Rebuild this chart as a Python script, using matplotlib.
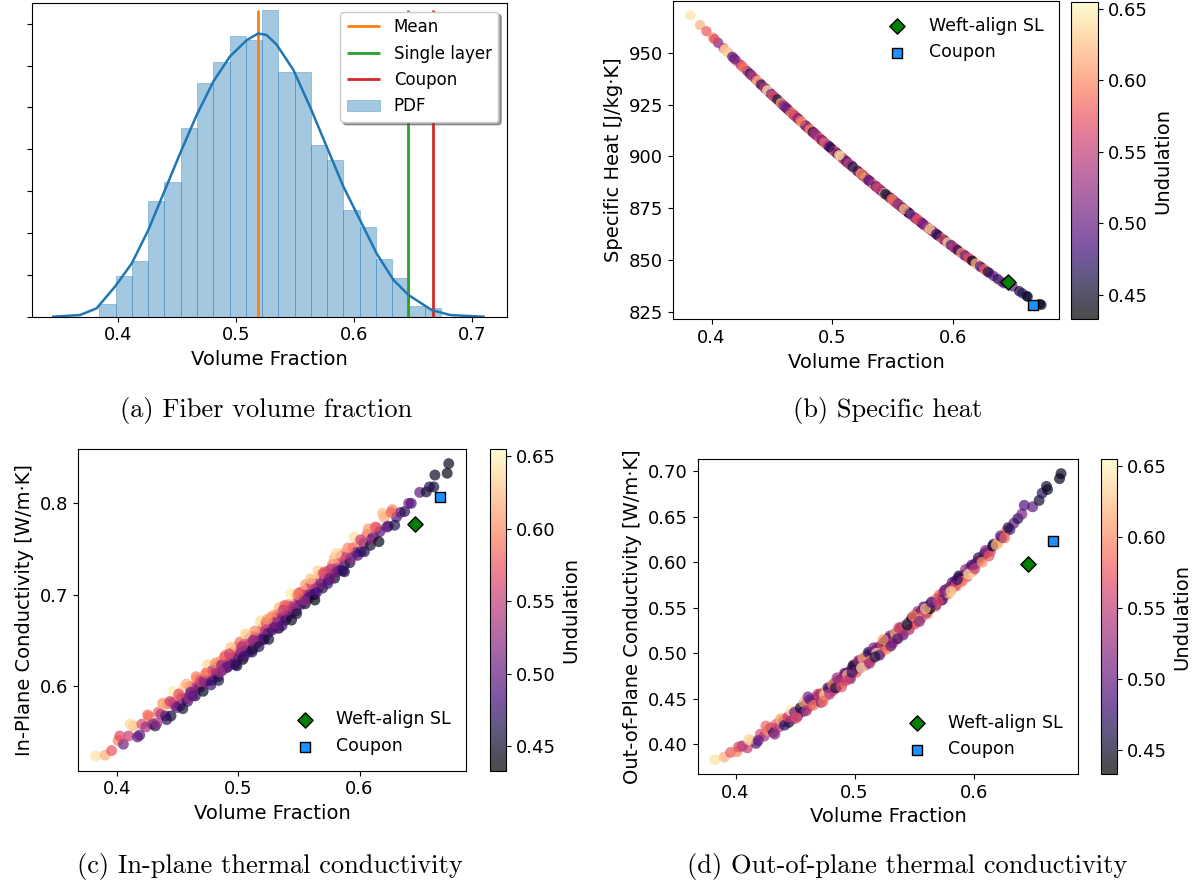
import numpy as np
import matplotlib
matplotlib.use("Agg")
import matplotlib.pyplot as plt

# ---- histogram of fibre volume fraction (density per bin)
hist_start = 0.3839
hist_width = 0.01379
hist_density = [0.30, 0.97, 1.33, 2.76, 3.22, 4.51, 5.59, 6.09, 6.71, 6.61, 7.33,
                5.85, 5.85, 4.10, 3.75, 2.55, 2.14, 1.39, 0.92, 0.25, 0.20]

kde_x = [0.3449, 0.3675, 0.3816, 0.3972, 0.4113, 0.4254, 0.4395, 0.4523, 0.4664,
         0.4805, 0.4946, 0.5088, 0.5186, 0.5257, 0.5342, 0.5483, 0.5624, 0.5766,
         0.5907, 0.6048, 0.6189, 0.6331, 0.6458, 0.6655, 0.6811, 0.7093]
kde_y = [0.00, 0.04, 0.20, 0.72, 1.27, 2.07, 3.03, 3.90, 4.82, 5.62, 6.22, 6.61,
         6.77, 6.73, 6.50, 5.90, 5.02, 4.06, 3.11, 2.31, 1.51, 0.88, 0.52, 0.16,
         0.04, 0.00]

vf_mean = 0.5181
vf_single_layer = 0.6458
vf_coupon = 0.6667

# ---- reference specimens
sl_cp, coupon_cp = 839.4, 828.5
sl_kin, coupon_kin = 0.777, 0.807
sl_kout, coupon_kout = 0.598, 0.623

# ---- samples: volume fraction, undulation, specific heat, in-plane k, out-of-plane k
vf = [0.3826, 0.3905, 0.3958, 0.4012, 0.4055, 0.4098, 0.4137, 0.4172, 0.4208, 0.4241,
      0.4268, 0.4295, 0.4318, 0.4342, 0.4365, 0.4383, 0.4402, 0.4421, 0.4447, 0.4468,
      0.4485, 0.4503, 0.4521, 0.4536, 0.4551, 0.4569, 0.4584, 0.4603, 0.4617, 0.4632,
      0.4648, 0.4659, 0.4671, 0.4684, 0.4697, 0.4712, 0.4728, 0.4741, 0.4756, 0.4770,
      0.4783, 0.4797, 0.4809, 0.4821, 0.4834, 0.4846, 0.4858, 0.4871, 0.4883, 0.4896,
      0.4909, 0.4922, 0.4936, 0.4947, 0.4958, 0.4969, 0.4981, 0.4992, 0.5004, 0.5016,
      0.5028, 0.5039, 0.5051, 0.5063, 0.5074, 0.5086, 0.5097, 0.5109, 0.5121, 0.5132,
      0.5144, 0.5156, 0.5168, 0.5179, 0.5191, 0.5203, 0.5214, 0.5225, 0.5236, 0.5247,
      0.5258, 0.5269, 0.5280, 0.5291, 0.5302, 0.5313, 0.5324, 0.5335, 0.5345, 0.5354,
      0.5367, 0.5379, 0.5391, 0.5404, 0.5416, 0.5429, 0.5441, 0.5454, 0.5466, 0.5478,
      0.5490, 0.5503, 0.5515, 0.5528, 0.5541, 0.5553, 0.5566, 0.5579, 0.5591, 0.5604,
      0.5616, 0.5628, 0.5645, 0.5662, 0.5679, 0.5695, 0.5712, 0.5729, 0.5745, 0.5761,
      0.5778, 0.5795, 0.5811, 0.5828, 0.5845, 0.5862, 0.5878, 0.5894, 0.5921, 0.5945,
      0.5968, 0.5991, 0.6013, 0.6035, 0.6062, 0.6089, 0.6115, 0.6142, 0.6168, 0.6203,
      0.6237, 0.6271, 0.6305, 0.6338, 0.6372, 0.6405, 0.6426, 0.6496, 0.6550, 0.6576,
      0.6612, 0.6621, 0.6722, 0.6735,
      0.4025, 0.4110, 0.4190, 0.4255, 0.4330, 0.4378, 0.4412, 0.4440, 0.4462, 0.4495,
      0.4512, 0.4545, 0.4575, 0.4595, 0.4625, 0.4655, 0.4690, 0.4718, 0.4748, 0.4776,
      0.4790, 0.4815, 0.4840, 0.4865, 0.4890, 0.4915, 0.4940, 0.4965, 0.4990, 0.5015,
      0.5032, 0.5048, 0.5070, 0.5092, 0.5115, 0.5138, 0.5160, 0.5185, 0.5210, 0.5232,
      0.5252, 0.5274, 0.5296, 0.5318, 0.5340, 0.5362, 0.5385, 0.5408, 0.5432, 0.5458,
      0.5482, 0.5505, 0.5530, 0.5555, 0.5580, 0.5605, 0.5632, 0.5658, 0.5685, 0.5712,
      0.5738, 0.5765, 0.5792, 0.5820, 0.5848, 0.5876, 0.5905, 0.5932, 0.5958, 0.5985,
      0.6010, 0.6040, 0.6072, 0.6100, 0.6130, 0.6160, 0.6190, 0.6225, 0.6260, 0.6290,
      0.4608, 0.4735, 0.4852, 0.4928, 0.4978, 0.5058, 0.5126, 0.5172, 0.5240, 0.5305,
      0.5372, 0.5440, 0.5492, 0.5545, 0.5595, 0.5645, 0.5702, 0.5755, 0.5810, 0.5862]

undulation = [0.642, 0.618, 0.575, 0.598, 0.508, 0.552, 0.621, 0.489, 0.565, 0.533,
              0.603, 0.512, 0.468, 0.577, 0.541, 0.629, 0.497, 0.585, 0.452, 0.561,
              0.519, 0.608, 0.486, 0.547, 0.637, 0.503, 0.474, 0.589, 0.528, 0.556,
              0.462, 0.614, 0.535, 0.498, 0.572, 0.445, 0.523, 0.597, 0.511, 0.646,
              0.482, 0.550, 0.509, 0.583, 0.466, 0.531, 0.604, 0.495, 0.542, 0.623,
              0.478, 0.517, 0.568, 0.502, 0.590, 0.455, 0.537, 0.612, 0.489, 0.558,
              0.521, 0.433, 0.575, 0.506, 0.633, 0.471, 0.544, 0.598, 0.448, 0.513,
              0.561, 0.487, 0.527, 0.655, 0.499, 0.582, 0.458, 0.536, 0.609, 0.494,
              0.567, 0.520, 0.476, 0.627, 0.548, 0.503, 0.589, 0.443, 0.531, 0.571,
              0.509, 0.615, 0.469, 0.540, 0.596, 0.492, 0.553, 0.519, 0.640, 0.461,
              0.579, 0.525, 0.486, 0.603, 0.546, 0.451, 0.512, 0.587, 0.533, 0.497,
              0.631, 0.474, 0.558, 0.505, 0.612, 0.463, 0.541, 0.584, 0.488, 0.527,
              0.596, 0.447, 0.519, 0.563, 0.480, 0.621, 0.502, 0.545, 0.459, 0.576,
              0.514, 0.603, 0.471, 0.532, 0.587, 0.452, 0.508, 0.566, 0.493, 0.614,
              0.476, 0.598, 0.488, 0.502, 0.465, 0.509, 0.487, 0.497, 0.452, 0.470,
              0.456, 0.448, 0.442, 0.446,
              0.566, 0.637, 0.497, 0.583, 0.528, 0.612, 0.472, 0.553, 0.648, 0.506,
              0.573, 0.459, 0.617, 0.534, 0.491, 0.592, 0.563, 0.515, 0.639, 0.476,
              0.545, 0.602, 0.462, 0.524, 0.574, 0.497, 0.628, 0.514, 0.452, 0.585,
              0.536, 0.483, 0.618, 0.556, 0.468, 0.599, 0.521, 0.639, 0.490, 0.566,
              0.455, 0.597, 0.511, 0.546, 0.620, 0.476, 0.578, 0.503, 0.648, 0.539,
              0.465, 0.571, 0.528, 0.610, 0.492, 0.551, 0.438, 0.633, 0.517, 0.586,
              0.479, 0.542, 0.618, 0.501, 0.565, 0.456, 0.597, 0.526, 0.641, 0.485,
              0.553, 0.468, 0.606, 0.512, 0.575, 0.445, 0.624, 0.497, 0.583, 0.461,
              0.507, 0.588, 0.532, 0.559, 0.474, 0.642, 0.527, 0.461, 0.608, 0.498,
              0.552, 0.449, 0.594, 0.518, 0.627, 0.484, 0.563, 0.507, 0.637, 0.474]

specific_heat = [968.0, 963.4, 960.4, 957.3, 954.8, 952.3, 950.1, 948.1, 946.0, 944.2,
                 942.7, 941.2, 939.9, 938.6, 937.3, 936.2, 935.2, 934.1, 932.7, 931.5,
                 930.6, 929.6, 928.7, 927.9, 927.1, 926.1, 925.3, 924.2, 923.5, 922.7,
                 921.8, 921.2, 920.6, 919.9, 919.2, 918.5, 917.6, 916.9, 916.1, 915.4,
                 914.7, 913.9, 913.3, 912.7, 912.0, 911.4, 910.8, 910.1, 909.5, 908.8,
                 908.1, 907.4, 906.7, 906.2, 905.6, 905.1, 904.5, 903.9, 903.3, 902.7,
                 902.1, 901.5, 900.9, 900.3, 899.8, 899.2, 898.6, 898.0, 897.4, 896.8,
                 896.2, 895.7, 895.1, 894.5, 893.9, 893.3, 892.8, 892.3, 891.7, 891.2,
                 890.6, 890.1, 889.6, 889.0, 888.5, 888.0, 887.4, 886.9, 886.4, 886.0,
                 885.4, 884.8, 884.2, 883.6, 883.0, 882.4, 881.8, 881.2, 880.7, 880.1,
                 879.6, 879.0, 878.4, 877.8, 877.2, 876.6, 876.0, 875.4, 874.8, 874.2,
                 873.7, 873.1, 872.3, 871.5, 870.7, 870.0, 869.3, 868.5, 867.8, 867.0,
                 866.3, 865.5, 864.8, 864.1, 863.4, 862.6, 861.9, 861.2, 860.0, 858.9,
                 857.9, 856.9, 855.9, 855.0, 853.8, 852.7, 851.6, 850.5, 849.4, 847.9,
                 846.5, 845.1, 843.7, 842.3, 840.9, 839.6, 838.8, 837.3, 835.0, 834.0,
                 832.7, 832.3, 828.8, 828.4,
                 956.6, 951.6, 947.1, 943.4, 939.2, 936.5, 934.6, 933.1, 931.9, 930.1,
                 929.1, 927.5, 925.8, 924.6, 923.1, 921.5, 919.6, 918.2, 916.5, 915.0,
                 914.3, 913.0, 911.7, 910.5, 909.2, 907.8, 906.5, 905.3, 904.0, 902.7,
                 901.9, 901.1, 900.0, 898.9, 897.7, 896.5, 895.5, 894.2, 893.0, 891.9,
                 891.0, 889.9, 888.8, 887.7, 886.7, 885.6, 884.5, 883.4, 882.3, 881.1,
                 880.0, 878.9, 877.7, 876.5, 875.3, 874.2, 872.9, 871.7, 870.5, 869.3,
                 868.1, 866.8, 865.6, 864.4, 863.2, 862.0, 860.7, 859.5, 858.4, 857.2,
                 856.1, 854.8, 853.4, 852.2, 851.0, 849.7, 848.4, 847.0, 845.6, 844.3,
                 924.0, 917.2, 911.1, 907.1, 904.6, 900.6, 897.1, 894.9, 891.5, 888.4,
                 885.1, 881.9, 879.5, 877.0, 874.6, 872.3, 869.7, 867.3, 864.9, 862.6]

k_in_plane = [0.523, 0.524, 0.529, 0.540, 0.536, 0.545, 0.556, 0.544, 0.558, 0.555,
              0.566, 0.558, 0.556, 0.571, 0.569, 0.580, 0.567, 0.580, 0.567, 0.582,
              0.578, 0.590, 0.578, 0.587, 0.598, 0.586, 0.583, 0.599, 0.593, 0.599,
              0.589, 0.607, 0.600, 0.598, 0.607, 0.594, 0.604, 0.614, 0.606, 0.622,
              0.606, 0.615, 0.612, 0.621, 0.610, 0.618, 0.627, 0.617, 0.623, 0.634,
              0.620, 0.625, 0.633, 0.626, 0.637, 0.624, 0.634, 0.643, 0.631, 0.640,
              0.637, 0.629, 0.646, 0.639, 0.654, 0.637, 0.646, 0.654, 0.640, 0.647,
              0.654, 0.647, 0.652, 0.668, 0.653, 0.663, 0.651, 0.661, 0.670, 0.658,
              0.668, 0.664, 0.661, 0.678, 0.671, 0.667, 0.678, 0.663, 0.674, 0.680,
              0.674, 0.687, 0.672, 0.682, 0.689, 0.680, 0.687, 0.685, 0.700, 0.682,
              0.696, 0.692, 0.689, 0.703, 0.699, 0.690, 0.698, 0.708, 0.703, 0.700,
              0.716, 0.700, 0.712, 0.708, 0.722, 0.707, 0.718, 0.725, 0.716, 0.722,
              0.733, 0.718, 0.727, 0.735, 0.727, 0.745, 0.733, 0.741, 0.735, 0.751,
              0.746, 0.758, 0.747, 0.756, 0.766, 0.754, 0.764, 0.773, 0.769, 0.785,
              0.775, 0.793, 0.785, 0.790, 0.791, 0.800, 0.800, 0.812, 0.8125, 0.818,
              0.818, 0.831, 0.833, 0.8435,
              0.545, 0.558, 0.546, 0.568, 0.559, 0.581, 0.563, 0.583, 0.594, 0.576,
              0.591, 0.575, 0.602, 0.587, 0.589, 0.610, 0.605, 0.605, 0.623, 0.601,
              0.617, 0.625, 0.606, 0.623, 0.632, 0.621, 0.642, 0.625, 0.622, 0.648,
              0.643, 0.632, 0.656, 0.652, 0.637, 0.660, 0.648, 0.671, 0.651, 0.669,
              0.651, 0.675, 0.669, 0.668, 0.686, 0.666, 0.688, 0.676, 0.701, 0.685,
              0.679, 0.702, 0.695, 0.711, 0.696, 0.712, 0.694, 0.726, 0.712, 0.725,
              0.712, 0.728, 0.740, 0.725, 0.742, 0.725, 0.751, 0.740, 0.763, 0.743,
              0.760, 0.747, 0.772, 0.761, 0.774, 0.758, 0.789, 0.774, 0.790, 0.776,
              0.593, 0.614, 0.615, 0.635, 0.623, 0.657, 0.650, 0.643, 0.673, 0.664,
              0.683, 0.672, 0.700, 0.693, 0.717, 0.702, 0.723, 0.718, 0.745, 0.726]

k_out_plane = [0.383, 0.386, 0.391, 0.392, 0.398, 0.396, 0.404, 0.401, 0.411, 0.409,
               0.415, 0.418, 0.413, 0.422, 0.419, 0.426, 0.425, 0.428, 0.424, 0.433,
               0.428, 0.436, 0.431, 0.437, 0.441, 0.436, 0.443, 0.440, 0.446, 0.443,
               0.447, 0.446, 0.449, 0.452, 0.448, 0.455, 0.451, 0.457, 0.454, 0.461,
               0.460, 0.458, 0.463, 0.459, 0.467, 0.462, 0.470, 0.466, 0.471, 0.468,
               0.474, 0.477, 0.472, 0.479, 0.474, 0.481, 0.485, 0.478, 0.486, 0.483,
               0.489, 0.491, 0.486, 0.493, 0.488, 0.495, 0.491, 0.490, 0.499, 0.497,
               0.494, 0.501, 0.503, 0.497, 0.506, 0.500, 0.507, 0.505, 0.502, 0.510,
               0.508, 0.513, 0.516, 0.510, 0.514, 0.518, 0.512, 0.521, 0.519, 0.516,
               0.524, 0.519, 0.528, 0.525, 0.523, 0.531, 0.528, 0.534, 0.527, 0.536,
               0.533, 0.538, 0.541, 0.535, 0.543, 0.545, 0.540, 0.547, 0.550, 0.546,
               0.543, 0.553, 0.552, 0.557, 0.551, 0.560, 0.561, 0.558, 0.566, 0.564,
               0.565, 0.572, 0.570, 0.575, 0.579, 0.574, 0.583, 0.580, 0.586, 0.584,
               0.594, 0.590, 0.598, 0.601, 0.603, 0.609, 0.611, 0.612, 0.620, 0.621,
               0.627, 0.634, 0.636, 0.643, 0.648, 0.653, 0.6626, 0.661, 0.668, 0.676,
               0.6835, 0.680, 0.692, 0.6975,
               0.397, 0.405, 0.404, 0.420, 0.411, 0.428, 0.421, 0.430, 0.437, 0.435,
               0.429, 0.440, 0.446, 0.437, 0.449, 0.443, 0.455, 0.446, 0.454, 0.462,
               0.455, 0.466, 0.462, 0.470, 0.463, 0.478, 0.476, 0.472, 0.487, 0.479,
               0.492, 0.484, 0.495, 0.487, 0.501, 0.492, 0.506, 0.500, 0.498, 0.510,
               0.513, 0.505, 0.519, 0.511, 0.522, 0.516, 0.527, 0.520, 0.531, 0.526,
               0.539, 0.532, 0.546, 0.538, 0.551, 0.544, 0.549, 0.558, 0.553, 0.564,
               0.559, 0.570, 0.566, 0.578, 0.574, 0.585, 0.579, 0.592, 0.587, 0.597,
               0.593, 0.605, 0.600, 0.613, 0.607, 0.618, 0.619, 0.629, 0.627, 0.638,
               0.452, 0.447, 0.473, 0.470, 0.479, 0.484, 0.489, 0.496, 0.515, 0.508,
               0.528, 0.531, 0.541, 0.535, 0.549, 0.556, 0.557, 0.569, 0.568, 0.581]

captions = ["(a) Fiber volume fraction", "(b) Specific heat",
            "(c) In-plane thermal conductivity", "(d) Out-of-plane thermal conductivity"]

W, H = 1200, 886
TICK = 13
LABEL = 14


def px_axes(fig, x0, y0, x1, y1):
    return fig.add_axes([x0 / W, 1 - y1 / H, (x1 - x0) / W, (y1 - y0) / H])


fig = plt.figure(figsize=(W / 100, H / 100), dpi=100)

# (a) histogram + KDE
ax = px_axes(fig, 32.3, 3.3, 506.7, 316.7)
ax.vlines(vf_mean, 0, max(hist_density), color="C1", lw=2, label="Mean")
ax.vlines(vf_single_layer, 0, max(hist_density), color="C2", lw=2, label="Single layer")
ax.vlines(vf_coupon, 0, max(hist_density), color="C3", lw=2, label="Coupon")
left_edges = hist_start + hist_width * np.arange(len(hist_density))
ax.bar(left_edges, hist_density, width=hist_width, align="edge", color="C0",
       alpha=0.4, edgecolor="C0", linewidth=0.6, label="PDF")
ax.plot(kde_x, kde_y, color="C0", lw=1.8)
ax.set_xlim(0.3271, 0.7291)
ax.set_ylim(0, 7.49)
ax.set_yticks(range(0, 8))
ax.set_yticklabels([])
ax.set_xticks([0.4, 0.5, 0.6, 0.7])
ax.tick_params(labelsize=TICK)
ax.set_xlabel("Volume Fraction", fontsize=LABEL)
ax.legend(loc="upper right", shadow=True, fontsize=12)


def scatter_panel(box, cbox, y, ylabel, yticks, sl, cp_, size, legend_loc):
    ax = px_axes(fig, *box)
    sc = ax.scatter(vf, y, c=undulation, cmap="magma", alpha=0.7, s=size,
                    linewidths=0)
    ax.scatter([vf_single_layer], [sl], marker="D", s=60, color="green",
               edgecolors="black", linewidths=1, label="Weft-align SL", zorder=3)
    ax.scatter([vf_coupon], [cp_], marker="s", s=60, color="dodgerblue",
               edgecolors="black", linewidths=1, label="Coupon", zorder=3)
    ax.set_xticks([0.4, 0.5, 0.6])
    ax.set_yticks(yticks)
    ax.tick_params(labelsize=TICK)
    ax.set_xlabel("Volume Fraction", fontsize=LABEL)
    ax.set_ylabel(ylabel, fontsize=LABEL)
    ax.legend(loc=legend_loc, frameon=False, fontsize=12.5)
    cax = px_axes(fig, *cbox)
    cb = fig.colorbar(sc, cax=cax)
    cb.set_ticks([0.45, 0.50, 0.55, 0.60, 0.65])
    cb.ax.tick_params(labelsize=TICK)
    cb.set_label("Undulation", fontsize=LABEL)
    return ax


scatter_panel((673, 1, 1059, 319.3), (1071.3, 1.7, 1097.8, 319.3), specific_heat,
              "Specific Heat [J/kg·K]", [825, 850, 875, 900, 925, 950],
              sl_cp, coupon_cp, 55, "upper right")
scatter_panel((77.9, 449, 466.4, 770.7), (490.4, 449, 506.4, 770.7), k_in_plane,
              "In-Plane Conductivity [W/m·K]", [0.6, 0.7, 0.8],
              sl_kin, coupon_kin, 62, "lower right")
scatter_panel((697.6, 459.3, 1078.4, 774), (1101.3, 459.3, 1117.4, 774), k_out_plane,
              "Out-of-Plane Conductivity [W/m·K]",
              [0.40, 0.45, 0.50, 0.55, 0.60, 0.65, 0.70],
              sl_kout, coupon_kout, 62, "lower right")

cap_pos = [(266, 410), (888, 410), (270, 867), (907, 867)]
for (cx, cy), text in zip(cap_pos, captions):
    fig.text(cx / W, 1 - cy / H, text, ha="center", va="center",
             fontfamily="cmr10", fontsize=19)

fig.savefig("out.png", dpi=100)
